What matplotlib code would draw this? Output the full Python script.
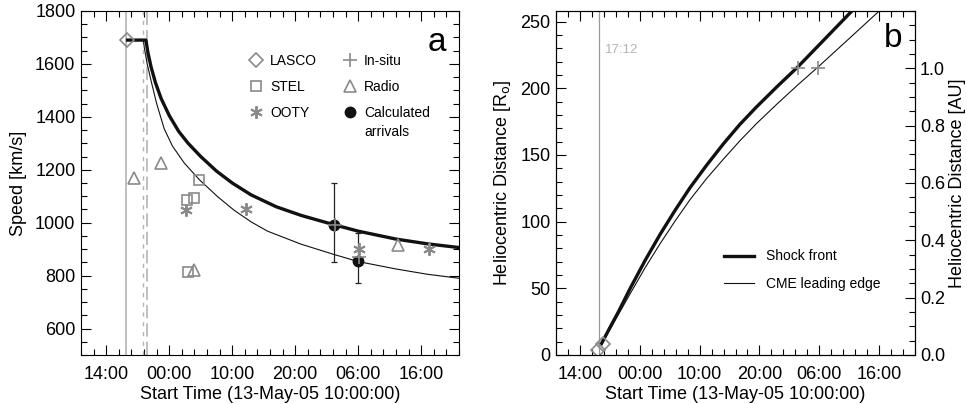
import matplotlib
matplotlib.use("Agg")
import matplotlib.pyplot as plt
from matplotlib.lines import Line2D
from matplotlib.ticker import MultipleLocator

plt.rcParams['font.family'] = ['Liberation Sans', 'DejaVu Sans']
plt.rcParams['font.size'] = 13

# hours after 13-May-05 10:00:00
tick_hours = [4, 14, 24, 34, 44, 54]
tick_labels = ["14:00", "00:00", "10:00", "20:00", "06:00", "16:00"]

# vertical event lines (hours)
lasco_time = 7.2
dot_time = 9.8
dash_time = 10.4

# panel a: speed profiles
shock_t = [7.4, 10.3, 10.6, 11.1, 11.8, 12.7, 14.0, 15.5, 17.0, 19.0, 21.5, 24.0, 27.0, 31.0, 35.0, 40.2, 44.0, 50.0, 55.0, 60.0]
shock_v = [1690, 1690, 1645, 1590, 1530, 1470, 1405, 1345, 1300, 1250, 1195, 1150, 1105, 1060, 1027, 992, 968, 938, 920, 906]
cme_t = [7.4, 9.9, 10.05, 10.5, 11.1, 12.0, 13.2, 14.5, 16.4, 18.8, 21.7, 24.3, 27.0, 29.6, 34.9, 40.0, 44.0, 50.0, 55.0, 60.0]
cme_v = [1690, 1690, 1660, 1600, 1538, 1450, 1355, 1290, 1225, 1162, 1098, 1047, 1003, 968, 919, 881, 853, 825, 805, 790]

# panel a: measurements
lasco_t = [7.25]
lasco_v = [1690]
stel_t = [16.8, 18.0, 18.8, 17.0]
stel_v = [1087, 1094, 1160, 812]
ooty_t = [16.6, 26.2, 44.1, 55.2]
ooty_v = [1048, 1050, 900, 900]
insitu_t = [40.3, 44.1]
insitu_v = [990, 869]
radio_t = [8.4, 12.7, 17.9, 50.3]
radio_v = [1170, 1225, 820, 915]
calc_t = [40.2, 43.9]
calc_v = [990, 856]
calc_lo = [140, 84]
calc_hi = [160, 106]

# panel b: height-time profiles
shock_rt = [7.6, 9.0, 10.5, 12.4, 14.9, 17.4, 19.9, 22.4, 25.2, 28.0, 30.7, 33.5, 37.0, 40.4, 44.5, 48.6, 50.0]
shock_r = [8.5, 20.5, 33, 50, 71, 90.5, 108.5, 125.5, 142.5, 158.5, 172.8, 186, 201.5, 216, 235, 254, 260.5]
cme_rt = [7.6, 9.0, 10.5, 12.4, 14.9, 17.4, 19.9, 22.4, 25.2, 28.0, 30.7, 33.5, 37.0, 40.4, 43.8, 48.8, 53.9, 55.0]
cme_r = [8, 19, 31, 46, 65.5, 83.5, 100.5, 116.5, 132.5, 147, 160.5, 173.5, 188.5, 202.5, 216, 236.5, 257.5, 262]
lasco_rt = [7.0, 7.8]
lasco_r = [3.5, 8.5]
insitu_rt = [40.4, 43.8]
insitu_r = [215, 215]

gray = '#8a8a8a'
lgray = '#b4b4b4'

fig = plt.figure(figsize=(9.67, 4.04), dpi=100)
ax1 = fig.add_axes([0.0838, 0.1213, 0.3909, 0.8515])
ax2 = fig.add_axes([0.575, 0.1213, 0.3712, 0.8515])


def style_time_axis(ax):
    ax.set_xlim(0, 60)
    ax.set_xticks(tick_hours)
    ax.set_xticklabels(tick_labels)
    ax.xaxis.set_minor_locator(MultipleLocator(2))
    ax.set_xlabel('Start Time (13-May-05 10:00:00)', labelpad=2)
    ax.tick_params(which='both', direction='in', top=True, width=0.8)
    ax.tick_params(which='major', length=7)
    ax.tick_params(which='minor', length=4)
    ax.tick_params(axis='x', which='major', pad=8)
    ax.tick_params(axis='y', which='major', pad=4)


# ---- panel a
style_time_axis(ax1)
ax1.tick_params(which='both', right=True)
ax1.set_ylim(500, 1800)
ax1.set_yticks([600, 800, 1000, 1200, 1400, 1600, 1800])
ax1.yaxis.set_minor_locator(MultipleLocator(50))
ax1.set_ylabel('Speed [km/s]', labelpad=6)

ax1.axvline(lasco_time, color=lgray, lw=1.2)
ax1.axvline(dot_time, color=lgray, lw=1, ls=(0, (3, 4)))
ax1.axvline(dash_time, color=lgray, lw=1.2, ls=(0, (8, 3)))

ax1.plot(shock_t, shock_v, color='#111111', lw=2.4)
ax1.plot(cme_t, cme_v, color='#111111', lw=0.8)

ax1.errorbar(calc_t, calc_v, yerr=[calc_lo, calc_hi], fmt='none', ecolor='#222222',
             elinewidth=0.9, capsize=2.5, capthick=0.9)
ax1.plot(calc_t, calc_v, 'o', color='#111111', ms=7.5, ls='none')
ax1.plot(lasco_t, lasco_v, 'D', mfc='none', mec=gray, ms=7, mew=1.2, ls='none')
ax1.plot(stel_t, stel_v, 's', mfc='none', mec=gray, ms=7, mew=1.2, ls='none')
ax1.plot(ooty_t, ooty_v, marker=(6, 2, 0), color=gray, ms=9, mew=1.4, ls='none')
ax1.plot(insitu_t, insitu_v, '+', color=gray, ms=9.5, mew=1.2, ls='none')
ax1.plot(radio_t, radio_v, '^', mfc='none', mec=gray, ms=9, mew=1.2, ls='none')

handles = [
    Line2D([], [], marker='D', mfc='none', mec=gray, ms=7, mew=1.2, ls='none'),
    Line2D([], [], marker='s', mfc='none', mec=gray, ms=7, mew=1.2, ls='none'),
    Line2D([], [], marker=(6, 2, 0), color=gray, ms=9, mew=1.4, ls='none'),
    Line2D([], [], marker='+', color=gray, ms=9.5, mew=1.2, ls='none'),
    Line2D([], [], marker='^', mfc='none', mec=gray, ms=9, mew=1.2, ls='none'),
    Line2D([], [], marker='o', color='#111111', ms=7.5, ls='none'),
]
labels = ['LASCO', 'STEL', 'OOTY', 'In-situ', 'Radio', 'Calculated']
ax1.legend(handles, labels, ncol=2, frameon=False, fontsize=10,
           loc='upper left', bbox_to_anchor=(0.43, 0.892),
           handlelength=1.0, handletextpad=0.5, columnspacing=1.9,
           labelspacing=0.87, borderaxespad=0)
ax1.text(0.749, 0.649, 'arrivals', transform=ax1.transAxes, fontsize=10,
         ha='left', va='center')
ax1.text(0.941, 0.907, 'a', transform=ax1.transAxes, fontsize=24,
         ha='center', va='center')

# ---- panel b
style_time_axis(ax2)
ax2.set_ylim(0, 258)
ax2.set_yticks([0, 50, 100, 150, 200, 250])
ax2.yaxis.set_minor_locator(MultipleLocator(10))
ax2.set_ylabel(r'Heliocentric Distance [R$_\mathrm{o}$]', labelpad=5)

ax2.axvline(lasco_time, color='#999999', lw=0.9)
ax2.text(lasco_time + 0.9, 229, '17:12', color=lgray, fontsize=9.5, va='center')

ax2.plot(shock_rt, shock_r, color='#111111', lw=2.4, label='Shock front')
ax2.plot(cme_rt, cme_r, color='#111111', lw=0.8, label='CME leading edge')
ax2.plot(lasco_rt, lasco_r, 'D', mfc='none', mec=gray, ms=7, mew=1.2, ls='none')
ax2.plot(insitu_rt, insitu_r, '+', color=gray, ms=9.5, mew=1.2, ls='none')

ax2.legend(frameon=False, fontsize=10, loc='upper left',
           bbox_to_anchor=(0.452, 0.323), handlelength=2.15, handletextpad=0.86,
           labelspacing=1.0, borderaxespad=0)
ax2.text(0.938, 0.92, 'b', transform=ax2.transAxes, fontsize=24,
         ha='center', va='center')

au = ax2.twinx()
au.set_ylim(0, 258 / 215.0)
au.set_yticks([0.0, 0.2, 0.4, 0.6, 0.8, 1.0])
au.set_yticklabels(['0.0', '0.2', '0.4', '0.6', '0.8', '1.0'])
au.yaxis.set_minor_locator(MultipleLocator(0.05))
au.tick_params(which='both', direction='in', width=0.8)
au.tick_params(which='major', length=7)
au.tick_params(which='minor', length=4)
au.set_ylabel('Heliocentric Distance [AU]', labelpad=3)
ax2.tick_params(which='both', right=False)

fig.savefig('out.png', dpi=100)
